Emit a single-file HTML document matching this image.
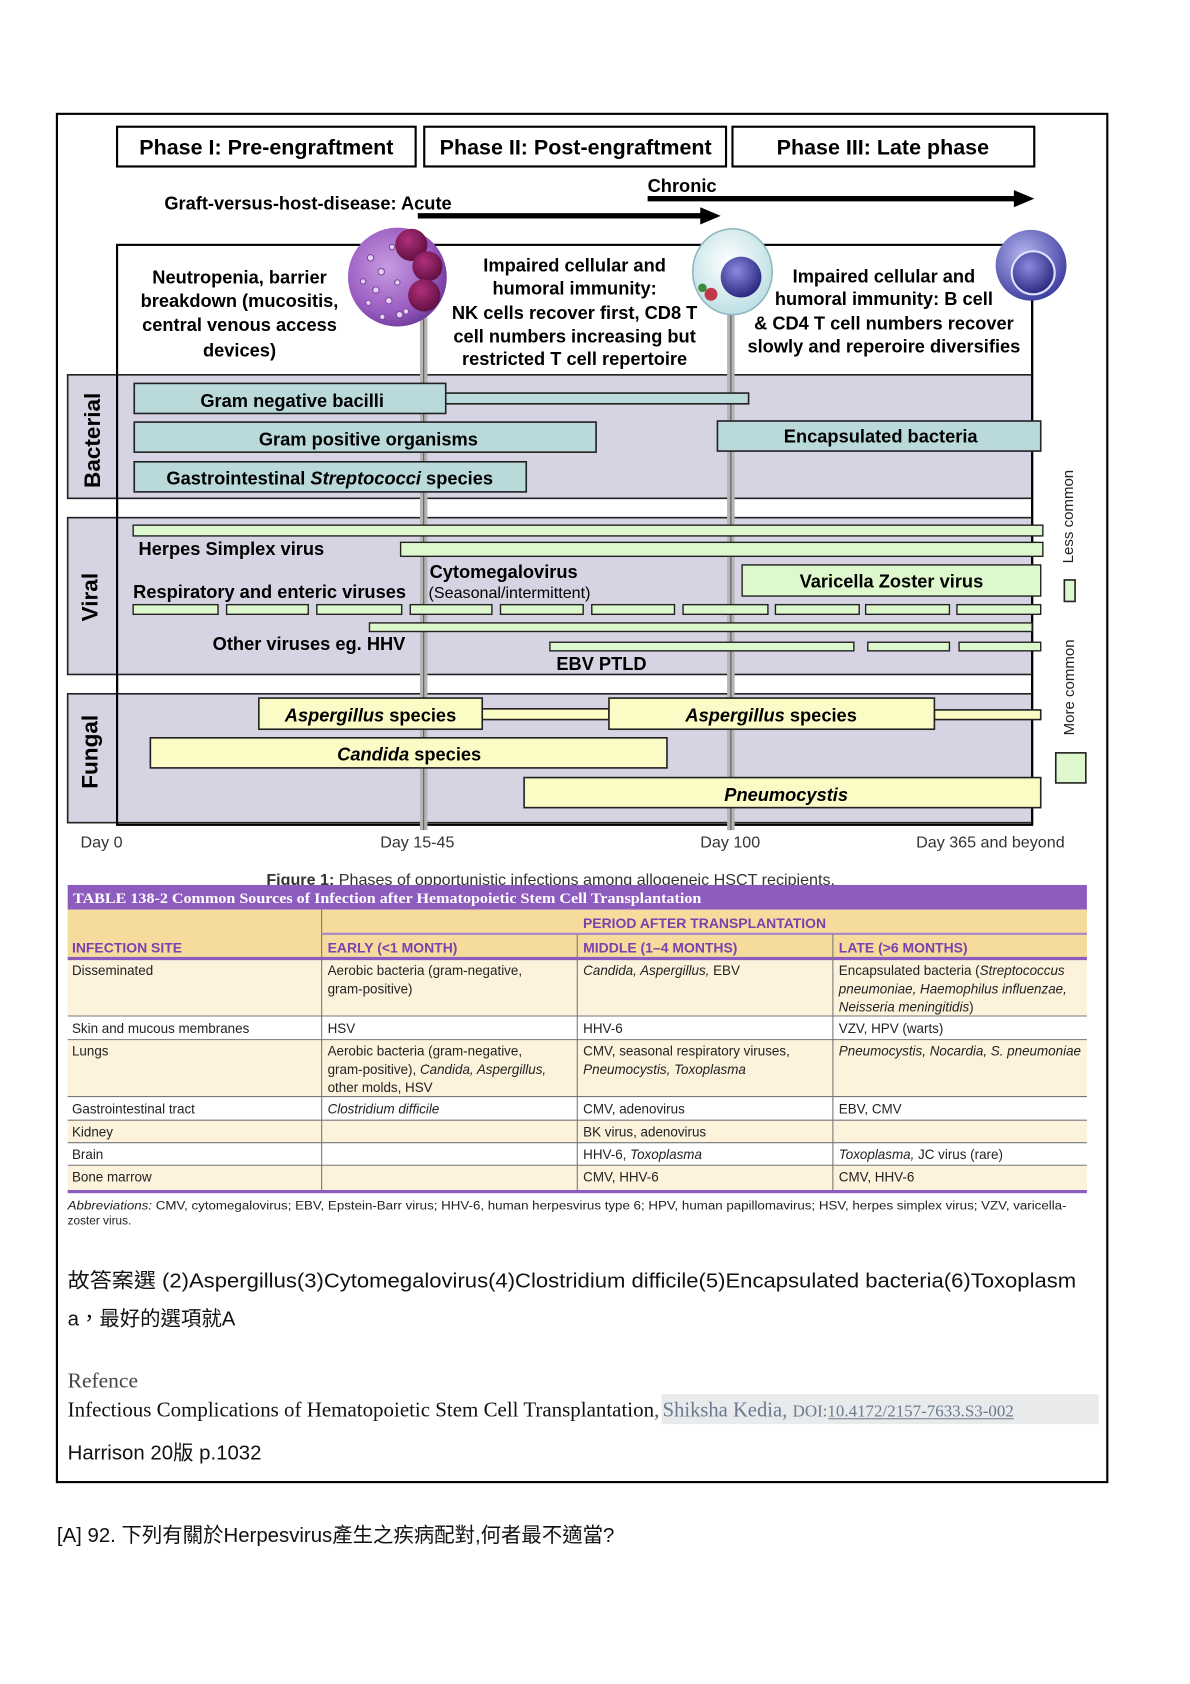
<!DOCTYPE html>
<html><head><meta charset="utf-8"><style>
html,body{margin:0;padding:0;background:#fff;}
svg{display:block;}
text{font-family:"Liberation Sans","Noto Sans CJK TC",sans-serif;}
.b{font-weight:bold;}
.serif{font-family:"Liberation Serif","Noto Serif CJK SC",serif;}
</style></head><body>
<svg width="1190" height="1684" viewBox="0 0 1108 1568" preserveAspectRatio="none" xmlns="http://www.w3.org/2000/svg">
<defs>
<radialGradient id="neu" cx="40%" cy="40%" r="65%"><stop offset="0" stop-color="#c79be0"/><stop offset="0.7" stop-color="#9a5cc2"/><stop offset="1" stop-color="#6b3a98"/></radialGradient>
<radialGradient id="lobe" cx="40%" cy="35%" r="70%"><stop offset="0" stop-color="#b0307a"/><stop offset="1" stop-color="#5c0d3e"/></radialGradient>
<radialGradient id="nuc" cx="40%" cy="35%" r="70%"><stop offset="0" stop-color="#8a8ae0"/><stop offset="1" stop-color="#23237a"/></radialGradient>
<radialGradient id="bc" cx="40%" cy="35%" r="70%"><stop offset="0" stop-color="#b4b4ef"/><stop offset="1" stop-color="#3a3a9e"/></radialGradient>
<radialGradient id="lc" cx="45%" cy="40%" r="65%"><stop offset="0" stop-color="#ffffff"/><stop offset="1" stop-color="#b8dde2"/></radialGradient>
</defs>
<rect x="53" y="106" width="978" height="1274" fill="#fff" stroke="#000" stroke-width="2"/>

<g fill="#fff" stroke="#000" stroke-width="2">
<rect x="109" y="118" width="278" height="37"/><rect x="395" y="118" width="281" height="37"/><rect x="682" y="118" width="281" height="37"/>
</g>
<g class="b" font-size="20" text-anchor="middle">
<text x="248" y="144">Phase I: Pre-engraftment</text>
<text x="536" y="144">Phase II: Post-engraftment</text>
<text x="822" y="144">Phase III: Late phase</text>
</g>
<text x="603" y="179" class="b" font-size="17">Chronic</text>
<line x1="603" y1="185" x2="948" y2="185" stroke="#000" stroke-width="5"/>
<polygon points="944,177 963,185 944,193" fill="#000"/>
<text x="153" y="195" class="b" font-size="17">Graft-versus-host-disease: Acute</text>
<line x1="389" y1="201" x2="656" y2="201" stroke="#000" stroke-width="5"/>
<polygon points="652,193 671,201 652,209" fill="#000"/>

<rect x="109" y="228" width="852" height="540" fill="#fff" stroke="#000" stroke-width="2"/>

<rect x="63" y="349" width="898" height="115" fill="#d6d3e3" stroke="#222" stroke-width="1.5"/>
<rect x="63" y="482" width="898" height="146" fill="#d6d3e3" stroke="#222" stroke-width="1.5"/>
<rect x="63" y="646" width="898" height="120" fill="#d6d3e3" stroke="#222" stroke-width="1.5"/>
<line x1="109" y1="349" x2="109" y2="768" stroke="#000" stroke-width="2"/>
<line x1="961" y1="228" x2="961" y2="768" stroke="#000" stroke-width="2"/>

<rect x="391" y="228" width="7" height="545" fill="#b5b5b5"/>
<line x1="394.5" y1="228" x2="394.5" y2="773" stroke="#555" stroke-width="1"/>
<rect x="677" y="228" width="7" height="545" fill="#b5b5b5"/>
<line x1="680.5" y1="228" x2="680.5" y2="773" stroke="#555" stroke-width="1"/>

<circle cx="370" cy="258" r="46" fill="url(#neu)"/>
<circle cx="383" cy="228" r="15" fill="url(#lobe)"/>
<circle cx="398" cy="248" r="14" fill="url(#lobe)"/>
<circle cx="395" cy="275" r="15" fill="url(#lobe)"/>
<g fill="#e9d2f3" stroke="#7a4aa0" stroke-width="1">
<circle cx="345" cy="240" r="3"/><circle cx="355" cy="253" r="3"/><circle cx="338" cy="262" r="2.5"/><circle cx="350" cy="270" r="3"/><circle cx="362" cy="280" r="3"/><circle cx="343" cy="282" r="2.5"/><circle cx="372" cy="293" r="3"/><circle cx="356" cy="295" r="2.5"/><circle cx="365" cy="230" r="2.5"/><circle cx="370" cy="263" r="2.5"/><circle cx="378" cy="290" r="2.5"/>
</g>
<ellipse cx="682" cy="253" rx="37" ry="40" fill="url(#lc)" stroke="#8fb9bf" stroke-width="1.5"/>
<circle cx="690" cy="258" r="19" fill="url(#nuc)"/>
<circle cx="662" cy="274" r="6" fill="#c0384a"/>
<circle cx="654" cy="268" r="4" fill="#3d8a3d"/>
<circle cx="960" cy="247" r="33" fill="url(#bc)"/>
<circle cx="962" cy="254" r="20" fill="url(#nuc)" stroke="#e0e0ff" stroke-width="2"/>

<g class="b" font-size="17" text-anchor="middle">
<text x="223" y="264">Neutropenia, barrier</text>
<text x="223" y="286">breakdown (mucositis,</text>
<text x="223" y="308">central venous access</text>
<text x="223" y="332">devices)</text>
<text x="535" y="253">Impaired cellular and</text>
<text x="535" y="274">humoral immunity:</text>
<text x="535" y="297">NK cells recover first, CD8 T</text>
<text x="535" y="319">cell numbers increasing but</text>
<text x="535" y="340">restricted T cell repertoire</text>
<text x="823" y="263">Impaired cellular and</text>
<text x="823" y="284">humoral immunity: B cell</text>
<text x="823" y="307">&amp; CD4 T cell numbers recover</text>
<text x="823" y="328">slowly and reperoire diversifies</text>
</g>

<g class="b" font-size="21" text-anchor="middle">
<text transform="translate(93,410) rotate(-90)">Bacterial</text>
<text transform="translate(91,556) rotate(-90)">Viral</text>
<text transform="translate(91,700) rotate(-90)">Fungal</text>
</g>

<g fill="#b9d9db" stroke="#222" stroke-width="1.5">
<rect x="415" y="366" width="282" height="10"/>
<rect x="125" y="357" width="290" height="28"/>
<rect x="125" y="393" width="430" height="28"/>
<rect x="125" y="430" width="365" height="28"/>
<rect x="668" y="392" width="301" height="28"/>
</g>
<g class="b" font-size="17">
<text x="272" y="379" text-anchor="middle">Gram negative bacilli</text>
<text x="343" y="415" text-anchor="middle">Gram positive organisms</text>
<text x="307" y="451" text-anchor="middle">Gastrointestinal <tspan font-style="italic">Streptococci</tspan> species</text>
<text x="820" y="412" text-anchor="middle">Encapsulated bacteria</text>
</g>

<g fill="#ddf8cc" stroke="#222" stroke-width="1.3">
<rect x="124" y="489" width="847" height="10"/>
<rect x="373" y="505" width="598" height="13"/>
<rect x="691" y="526" width="278" height="29"/>
<rect x="124" y="563" width="79" height="9"/><rect x="211" y="563" width="76" height="9"/><rect x="295" y="563" width="79" height="9"/><rect x="382" y="563" width="76" height="9"/><rect x="466" y="563" width="77" height="9"/><rect x="551" y="563" width="77" height="9"/><rect x="636" y="563" width="79" height="9"/><rect x="722" y="563" width="78" height="9"/><rect x="806" y="563" width="78" height="9"/><rect x="891" y="563" width="78" height="9"/>
<rect x="344" y="580" width="617" height="8"/>
<rect x="512" y="598" width="283" height="8"/><rect x="808" y="598" width="76" height="8"/><rect x="893" y="598" width="76" height="8"/>
</g>
<g class="b" font-size="17">
<text x="129" y="517">Herpes Simplex virus</text>
<text x="400" y="538">Cytomegalovirus</text>
<text x="124" y="557">Respiratory and enteric viruses</text>
<text x="830" y="547" text-anchor="middle">Varicella Zoster virus</text>
<text x="198" y="605">Other viruses eg. HHV</text>
<text x="518" y="624">EBV PTLD</text>
</g>
<text x="399" y="557" font-size="15">(Seasonal/intermittent)</text>

<g fill="#fbfbc5" stroke="#222" stroke-width="1.5">
<rect x="449" y="660" width="118" height="10"/>
<rect x="870" y="661" width="99" height="9"/>
<rect x="241" y="650" width="208" height="29"/>
<rect x="567" y="650" width="303" height="29"/>
<rect x="140" y="687" width="481" height="28"/>
<rect x="488" y="724" width="481" height="28"/>
</g>
<g class="b" font-size="17" text-anchor="middle">
<text x="345" y="672"><tspan font-style="italic">Aspergillus</tspan> species</text>
<text x="718" y="672"><tspan font-style="italic">Aspergillus</tspan> species</text>
<text x="381" y="708"><tspan font-style="italic">Candida</tspan> species</text>
<text x="732" y="746" font-style="italic">Pneumocystis</text>
</g>

<text transform="translate(999,481) rotate(-90)" font-size="14" text-anchor="middle" fill="#222">Less common</text>
<rect x="991" y="540" width="10" height="20" fill="#ddf8cc" stroke="#222" stroke-width="1.5"/>
<text transform="translate(1000,640) rotate(-90)" font-size="14" text-anchor="middle" fill="#222">More common</text>
<rect x="983" y="701" width="28" height="28" fill="#ddf8cc" stroke="#222" stroke-width="1.5"/>

<g font-size="15" fill="#333">
<text x="75" y="789">Day 0</text>
<text x="354" y="789">Day 15-45</text>
<text x="652" y="789">Day 100</text>
<text x="853" y="789">Day 365 and beyond</text>
</g>
<text x="248" y="824" font-size="15" fill="#333"><tspan font-weight="bold">Figure 1:</tspan> Phases of opportunistic infections among allogeneic HSCT recipients.</text>

<rect x="63" y="824" width="949" height="23" fill="#8e5cbf"/>
<text x="68" y="841" class="serif b" font-size="14" fill="#fff" textLength="585" lengthAdjust="spacingAndGlyphs">TABLE 138-2  Common Sources of Infection after Hematopoietic Stem Cell Transplantation</text>
<rect x="63" y="847" width="949" height="45" fill="#f5dc9c"/>
<line x1="300" y1="869.5" x2="1012" y2="869.5" stroke="#a884c9" stroke-width="2"/>
<g fill="#fdf3dc">
<rect x="63" y="893" width="949" height="53"/>
<rect x="63" y="968" width="949" height="53"/>
<rect x="63" y="1043" width="949" height="21"/>
<rect x="63" y="1085" width="949" height="23"/>
</g>
<rect x="63" y="891" width="949" height="3" fill="#8e5cbf"/>
<rect x="63" y="1108" width="949" height="3" fill="#8e5cbf"/>
<g stroke="#777" stroke-width="1">
<line x1="63" y1="946" x2="1012" y2="946"/><line x1="63" y1="968" x2="1012" y2="968"/><line x1="63" y1="1021" x2="1012" y2="1021"/><line x1="63" y1="1043" x2="1012" y2="1043"/><line x1="63" y1="1064" x2="1012" y2="1064"/><line x1="63" y1="1085" x2="1012" y2="1085"/>
<line x1="299.5" y1="847" x2="299.5" y2="1108"/><line x1="537.5" y1="870" x2="537.5" y2="1108"/><line x1="775.5" y1="870" x2="775.5" y2="1108"/>
</g>
<g class="b" font-size="13" fill="#7b3fb0">
<text x="656" y="864" text-anchor="middle">PERIOD AFTER TRANSPLANTATION</text>
<text x="67" y="887">INFECTION SITE</text>
<text x="305" y="887">EARLY (&lt;1 MONTH)</text>
<text x="543" y="887">MIDDLE (1–4 MONTHS)</text>
<text x="781" y="887">LATE (&gt;6 MONTHS)</text>
</g>
<g font-size="12.5" fill="#222">
<text x="67" y="908">Disseminated</text>
<text x="305" y="908">Aerobic bacteria (gram-negative,</text>
<text x="305" y="925">gram-positive)</text>
<text x="543" y="908"><tspan font-style="italic">Candida, Aspergillus,</tspan> EBV</text>
<text x="781" y="908">Encapsulated bacteria (<tspan font-style="italic">Streptococcus</tspan></text>
<text x="781" y="925" font-style="italic">pneumoniae, Haemophilus influenzae,</text>
<text x="781" y="942" font-style="italic">Neisseria meningitidis<tspan font-style="normal">)</tspan></text>
<text x="67" y="962">Skin and mucous membranes</text>
<text x="305" y="962">HSV</text>
<text x="543" y="962">HHV-6</text>
<text x="781" y="962">VZV, HPV (warts)</text>
<text x="67" y="983">Lungs</text>
<text x="305" y="983">Aerobic bacteria (gram-negative,</text>
<text x="305" y="1000">gram-positive), <tspan font-style="italic">Candida, Aspergillus,</tspan></text>
<text x="305" y="1017">other molds, HSV</text>
<text x="543" y="983">CMV, seasonal respiratory viruses,</text>
<text x="543" y="1000" font-style="italic">Pneumocystis, Toxoplasma</text>
<text x="781" y="983"><tspan font-style="italic">Pneumocystis, Nocardia, S. pneumoniae</tspan></text>
<text x="67" y="1037">Gastrointestinal tract</text>
<text x="305" y="1037" font-style="italic">Clostridium difficile</text>
<text x="543" y="1037">CMV, adenovirus</text>
<text x="781" y="1037">EBV, CMV</text>
<text x="67" y="1058">Kidney</text>
<text x="543" y="1058">BK virus, adenovirus</text>
<text x="67" y="1079">Brain</text>
<text x="543" y="1079">HHV-6, <tspan font-style="italic">Toxoplasma</tspan></text>
<text x="781" y="1079"><tspan font-style="italic">Toxoplasma,</tspan> JC virus (rare)</text>
<text x="67" y="1100">Bone marrow</text>
<text x="543" y="1100">CMV, HHV-6</text>
<text x="781" y="1100">CMV, HHV-6</text>
</g>
<g font-size="11" fill="#222">
<text x="63" y="1126" textLength="930" lengthAdjust="spacingAndGlyphs"><tspan font-style="italic">Abbreviations:</tspan> CMV, cytomegalovirus; EBV, Epstein-Barr virus; HHV-6, human herpesvirus type 6; HPV, human papillomavirus; HSV, herpes simplex virus; VZV, varicella-</text>
<text x="63" y="1140">zoster virus.</text>
</g>

<g font-size="19" fill="#111">
<text x="63" y="1199" textLength="939" lengthAdjust="spacingAndGlyphs">故答案選 (2)Aspergillus(3)Cytomegalovirus(4)Clostridium difficile(5)Encapsulated bacteria(6)Toxoplasm</text>
<text x="63" y="1234">a，最好的選項就A</text>
</g>
<text x="63" y="1292" class="serif" font-size="20" fill="#444">Refence</text>
<rect x="616" y="1298" width="407" height="28" fill="#e9eaec"/>
<text x="63" y="1319" class="serif" font-size="20" fill="#111" textLength="546" lengthAdjust="spacingAndGlyphs">Infectious Complications of Hematopoietic Stem Cell Transplantation</text>
<text x="609" y="1319" class="serif" font-size="20" fill="#555">,</text>
<text x="617" y="1319" class="serif" font-size="20" fill="#6a7a90" textLength="116" lengthAdjust="spacingAndGlyphs">Shiksha Kedia,</text>
<text x="738" y="1319" class="serif" font-size="16" fill="#6a7a90" textLength="206" lengthAdjust="spacingAndGlyphs">DOI:10.4172/2157-7633.S3-002</text>
<line x1="771" y1="1321" x2="944" y2="1321" stroke="#6a7a90" stroke-width="1"/>
<text x="63" y="1359" font-size="19" fill="#111">Harrison 20版 p.1032</text>

<text x="53" y="1436" font-size="19" fill="#111">[A] 92. 下列有關於Herpesvirus產生之疾病配對,何者最不適當?</text>
</svg>
</body></html>
